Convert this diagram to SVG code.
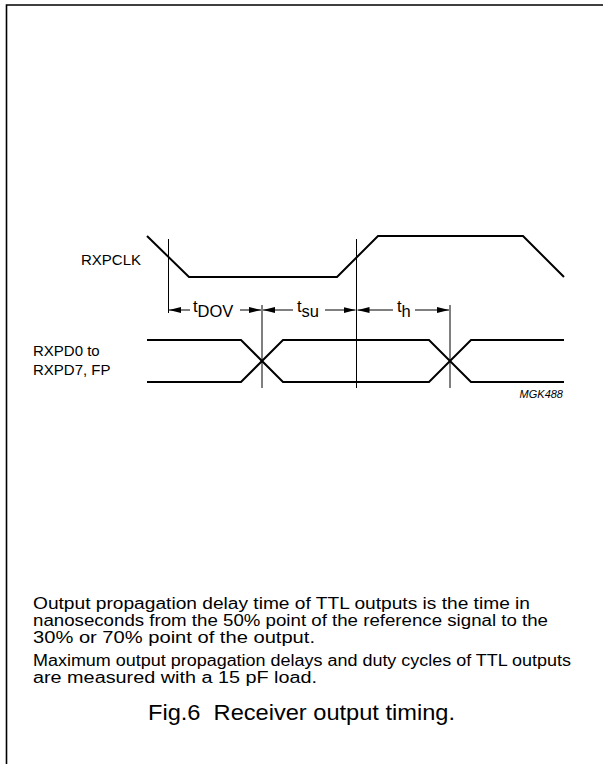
<svg xmlns="http://www.w3.org/2000/svg" width="603" height="764" viewBox="0 0 603 764">
<defs>
<style>
.frame{stroke:#000;stroke-width:1.6;fill:none}
.wave{stroke:#000;stroke-width:2;fill:none;stroke-linejoin:miter}
.ref{stroke:#000;stroke-width:1;fill:none}
.dim{stroke:#000;stroke-width:1;fill:none}
.lbl{font-family:"Liberation Sans",Arial,sans-serif;font-size:15px;fill:#000}
.tl{font-family:"Liberation Sans",Arial,sans-serif;font-size:16.5px;fill:#000}
.note{font-family:"Liberation Sans",Arial,sans-serif;font-size:16px;fill:#000}
.cap{font-family:"Liberation Sans",Arial,sans-serif;font-size:22px;fill:#000;white-space:pre}
.code{font-family:"Liberation Sans",Arial,sans-serif;font-size:11px;font-style:italic;fill:#000}
</style>
<marker id="ah" viewBox="0 0 12 6" refX="12" refY="3" markerWidth="12" markerHeight="6" markerUnits="userSpaceOnUse" orient="auto">
<path d="M0,0 L12,3 L0,6 Z" fill="#000"/>
</marker>
</defs>
<rect width="603" height="764" fill="#fff"/>
<path class="frame" d="M6.5,764 V5 H603"/>

<g id="rxpclk">
<text class="lbl" x="81" y="265">RXPCLK</text>
<path class="wave" d="M147,236 L189,277 L337,277 L378,236 L523,236 L564,277"/>
</g>

<g id="rxpd">
<text class="lbl" x="33" y="356">RXPD0 to</text>
<text class="lbl" x="33" y="375">RXPD7, FP</text>
<path class="wave" d="M147,340 L241,340 L283,382 L429,382 L471,340 L564,340"/>
<path class="wave" d="M147,382 L241,382 L283,340 L429,340 L471,382 L564,382"/>
</g>

<g id="code">
<text class="code" x="563" y="398" text-anchor="end">MGK488</text>
</g>

<g id="connectors">
<path class="ref" d="M168.5,239 V313"/>
<path class="ref" d="M262,305 V388"/>
<path class="ref" d="M356.5,239 V388"/>
<path class="ref" d="M450,305 V388"/>
<line class="dim" x1="190" y1="310" x2="169" y2="310" marker-end="url(#ah)"/>
<line class="dim" x1="240" y1="310" x2="261" y2="310" marker-end="url(#ah)"/>
<line class="dim" x1="293" y1="310" x2="263" y2="310" marker-end="url(#ah)"/>
<line class="dim" x1="325" y1="310" x2="355.5" y2="310" marker-end="url(#ah)"/>
<line class="dim" x1="393" y1="310" x2="357.5" y2="310" marker-end="url(#ah)"/>
<line class="dim" x1="415" y1="310" x2="449" y2="310" marker-end="url(#ah)"/>
</g>

<g id="tdov">
<text class="tl" x="193" y="312">t<tspan dy="5">DOV</tspan></text>
</g>
<g id="tsu">
<text class="tl" x="297" y="312">t<tspan dy="5">su</tspan></text>
</g>
<g id="th">
<text class="tl" x="397" y="312">t<tspan dy="5">h</tspan></text>
</g>

<g id="notes">
<text class="note" x="33" y="609" textLength="497" lengthAdjust="spacingAndGlyphs">Output propagation delay time of TTL outputs is the time in</text>
<text class="note" x="33" y="626" textLength="515" lengthAdjust="spacingAndGlyphs">nanoseconds from the 50% point of the reference signal to the</text>
<text class="note" x="33" y="643" textLength="282" lengthAdjust="spacingAndGlyphs">30% or 70% point of the output.</text>
<text class="note" x="33" y="666" textLength="538" lengthAdjust="spacingAndGlyphs">Maximum output propagation delays and duty cycles of TTL outputs</text>
<text class="note" x="33" y="683" textLength="284" lengthAdjust="spacingAndGlyphs">are measured with a 15 pF load.</text>
</g>

<g id="caption">
<text class="cap" x="148" y="720" textLength="307" lengthAdjust="spacingAndGlyphs">Fig.6  Receiver output timing.</text>
</g>
</svg>
